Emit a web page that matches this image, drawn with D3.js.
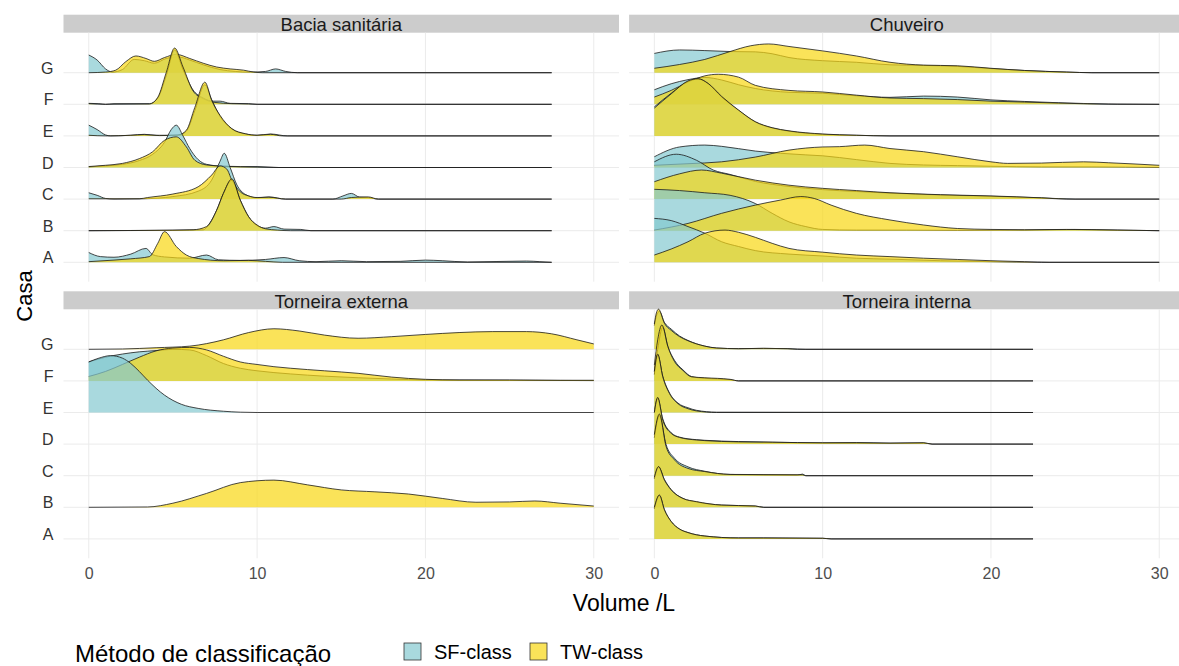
<!DOCTYPE html>
<html>
<head>
<meta charset="UTF-8">
<script src="https://cdn.jsdelivr.net/npm/d3@7"></script>
<style>
  body { margin: 0; background: #fff; }
  svg text { font-family: "Liberation Sans", Arial, sans-serif; }
</style>
</head>
<body>
<script>
// categorias e rótulos
const casas = ["A", "B", "C", "D", "E", "F", "G"];
const metodos = ["SF-class", "TW-class"];
const paineis = ["Bacia sanitária", "Chuveiro", "Torneira externa", "Torneira interna"];
const xTicks = [0, 10, 20, 30];

// densidades: [volume L, altura em unidades de linha]
const baciaSF = {
  G: [[0,0.56],[0.5,0.4],[1,0.12],[1.4,0.02],[2,0.1],[2.7,0.42],[3.3,0.38],[3.9,0.3],[4.6,0.45],[5.3,0.5],[6,0.4],[6.8,0.25],[7.8,0.1],[8.7,0.04],[9.6,0.02],[10.5,0.04],[11.1,0.12],[11.7,0.04],[12.4,0],[27.5,0]],
  F: [[0,0.03],[0.6,0.02],[1,0],[1.5,0.02],[3.6,0.02],[4.1,0.2],[4.6,0.9],[5.1,1.72],[5.6,1.1],[6.2,0.45],[6.8,0.2],[7.4,0.1],[7.8,0.1],[8.4,0.03],[9.5,0.02],[10,0],[27.5,0]],
  E: [[0,0.34],[0.5,0.2],[1,0.03],[1.3,0],[2.5,0.02],[3.3,0.05],[4,0.02],[5.3,0.02],[5.8,0.15],[6.3,0.8],[6.9,1.62],[7.3,1.15],[7.8,0.62],[8.5,0.22],[9.3,0.06],[10,0.02],[10.8,0.06],[11.8,0],[27.5,0]],
  D: [[0,0.02],[1,0.05],[2,0.1],[3,0.22],[3.8,0.42],[4.5,0.8],[4.9,1.2],[5.2,1.34],[5.6,1.0],[6,0.6],[6.5,0.25],[7,0.1],[8,0.04],[9,0.03],[10,0.03],[11.3,0],[27.5,0]],
  C: [[0,0.2],[0.5,0.12],[1,0.02],[1.5,0],[3.2,0.01],[5,0.08],[6.5,0.25],[7.3,0.6],[7.8,1.2],[8.05,1.45],[8.4,1.0],[8.8,0.45],[9.3,0.15],[10,0.04],[10.7,0.07],[11.7,0],[14.5,0],[15.1,0.1],[15.6,0.18],[16.1,0.06],[16.6,0.05],[17.2,0],[27.5,0]],
  B: [[0,0],[5,0.01],[6,0.02],[6.8,0.03],[7.2,0.25],[7.6,0.65],[8,1.18],[8.5,1.6],[9,0.97],[9.5,0.44],[10,0.16],[10.5,0.08],[11,0.13],[11.6,0.05],[12.6,0.04],[13.2,0],[27.5,0]],
  A: [[0,0.31],[0.7,0.18],[1.5,0.16],[2.5,0.26],[3.4,0.44],[3.8,0.24],[4.5,0.17],[6,0.13],[7,0.23],[7.7,0.08],[9,0.06],[10.5,0.09],[11.6,0.15],[12.5,0.05],[13.5,0.02],[15,0.05],[16.5,0.02],[18.5,0.03],[20,0.07],[21,0.05],[22.5,0.01],[26,0.04],[26.8,0.02],[27.5,0]]
};
const baciaTW = {
  G: [[0,0],[1,0.02],[1.6,0.08],[2.2,0.35],[2.8,0.53],[3.4,0.45],[3.9,0.36],[4.5,0.48],[5.2,0.58],[6,0.45],[6.8,0.3],[7.6,0.18],[8.4,0.12],[9.2,0.08],[9.8,0.02],[10.3,0],[27.5,0]],
  F: [[0,0.02],[1,0],[3.6,0.01],[4.1,0.22],[4.6,1.0],[5.1,1.78],[5.6,1.18],[6.2,0.42],[6.8,0.18],[7.5,0.06],[8.5,0.02],[9.5,0.01],[10,0],[27.5,0]],
  E: [[0,0.02],[1,0],[2.5,0.02],[3.3,0.04],[4.2,0.01],[5.3,0.03],[5.8,0.18],[6.3,0.9],[6.9,1.7],[7.3,1.13],[7.8,0.65],[8.5,0.23],[9.3,0.07],[10,0.02],[10.8,0.05],[11.5,0],[27.5,0]],
  D: [[0,0.03],[1,0.07],[2,0.13],[3,0.28],[3.8,0.5],[4.5,0.86],[5.2,0.97],[5.8,0.65],[6.3,0.23],[7,0.08],[8,0.04],[9,0.02],[10,0.01],[11,0],[27.5,0]],
  C: [[0,0.01],[3,0.01],[3.5,0.05],[5,0.16],[6.5,0.39],[7.3,0.76],[7.8,1.05],[8.2,0.95],[8.5,0.6],[9,0.23],[9.5,0.1],[10,0.05],[10.7,0.06],[11.7,0],[15,0],[15.6,0.05],[16.6,0.07],[17.2,0],[27.5,0]],
  B: [[0,0],[5,0.02],[6.2,0.03],[7,0.13],[7.6,0.65],[8,1.18],[8.5,1.64],[9,0.97],[9.5,0.44],[10,0.18],[10.5,0.06],[11.2,0.02],[12,0],[27.5,0]],
  A: [[0,0.02],[1.5,0.07],[2.5,0.11],[3.6,0.18],[4.1,0.6],[4.5,0.97],[5.2,0.5],[5.8,0.23],[6.5,0.12],[8,0.05],[9.5,0.06],[10.5,0.03],[11.5,0],[27.5,0]]
};

const chuveiroSF = {
  G: [[0,0.61],[1.5,0.72],[3,0.7],[4.5,0.67],[6,0.66],[7,0.6],[8,0.48],[10,0.38],[12,0.33],[14,0.25],[16,0.23],[18,0.2],[20,0.13],[22,0.07],[24.5,0.02],[26,0],[30,0]],
  F: [[0,0.46],[1,0.65],[2,0.78],[3,0.85],[4,0.77],[5,0.62],[6,0.5],[8,0.38],[10,0.35],[12,0.27],[14,0.22],[16,0.26],[18,0.23],[20,0.14],[22,0.09],[24,0.05],[27,0.01],[30,0]],
  E: [[0,0.92],[1,1.35],[2,1.72],[2.6,1.8],[3.2,1.65],[4,1.23],[5,0.81],[6,0.44],[7,0.25],[8,0.15],[10,0.05],[12,0.02],[14,0],[30,0]],
  D: [[0,0.34],[1.5,0.65],[3,0.71],[4,0.67],[6,0.52],[7.5,0.45],[9,0.4],[10,0.37],[12,0.25],[14,0.13],[16,0.08],[18,0.06],[20,0.04],[23,0.02],[26,0.02],[30,0]],
  C: [[0,1.18],[1.3,1.42],[2.5,1.23],[3.5,0.92],[4.5,0.78],[6,0.56],[8,0.4],[10,0.3],[12,0.24],[14,0.19],[17,0.13],[20,0.09],[23,0.04],[25,0],[30,0]],
  B: [[0,1.31],[1.5,1.27],[3,1.2],[4.5,1.12],[6,0.86],[7,0.55],[8,0.28],[9,0.13],[10,0.04],[12,0.02],[15,0.02],[18,0.01],[22,0.02],[25,0.04],[27.5,0.02],[30,0]],
  A: [[0,1.39],[1,1.32],[2,1.13],[3,0.92],[4,0.65],[5,0.5],[6,0.37],[8,0.26],[10,0.2],[12,0.13],[14,0.1],[17,0.05],[20,0.02],[23,0],[30,0]]
};
const chuveiroTW = {
  G: [[0,0.14],[1.5,0.26],[3,0.42],[4.5,0.67],[5.7,0.85],[6.8,0.91],[8,0.83],[10,0.69],[12,0.53],[14,0.33],[16,0.24],[18,0.22],[20,0.14],[22,0.07],[24.5,0.02],[26,0],[30,0]],
  F: [[0,0.23],[1,0.44],[2,0.7],[3,0.9],[3.8,0.95],[5,0.86],[6,0.6],[8,0.44],[10,0.39],[12,0.29],[14,0.2],[16,0.18],[18,0.15],[20,0.1],[22,0.07],[24,0.04],[27.5,0],[30,0]],
  E: [[0,0.88],[1,1.33],[2,1.74],[2.6,1.81],[3.2,1.66],[4,1.25],[5,0.82],[6,0.45],[7,0.26],[8,0.16],[10,0.06],[12,0.02],[14,0],[30,0]],
  D: [[0,0.07],[2,0.12],[4,0.18],[6,0.33],[8,0.55],[10,0.65],[11,0.66],[12.5,0.71],[14,0.6],[16,0.5],[18,0.34],[20,0.18],[21,0.13],[23,0.14],[25.5,0.18],[27,0.15],[30,0.07]],
  C: [[0,0.55],[1.5,0.8],[2.8,0.92],[4,0.82],[6,0.6],[8,0.44],[10,0.34],[12,0.27],[14,0.2],[17,0.14],[20,0.1],[23,0.04],[24.5,0],[30,0]],
  B: [[0,0.02],[2,0.23],[4,0.55],[6,0.81],[7.5,0.97],[8.7,1.08],[9.5,1.02],[10.5,0.81],[12,0.55],[14,0.34],[16,0.18],[18,0.07],[20,0.04],[22,0.03],[24.5,0.04],[27.5,0.02],[30,0]],
  A: [[0,0.23],[1,0.42],[2,0.65],[3,0.92],[4.2,1.02],[5,0.95],[6,0.79],[7,0.6],[8,0.44],[10,0.32],[12,0.23],[14,0.18],[16,0.13],[18,0.09],[20,0.05],[22,0.02],[23.5,0],[30,0]]
};

const externaSF = {
  F: [[0,0.6],[1,0.75],[2,0.85],[3,0.92],[4,0.96],[5,1.0],[6,0.98],[7,0.8],[8,0.55],[9,0.4],[10,0.32],[12,0.22],[14,0.15],[16,0.1],[18,0.06],[20,0.03],[25,0.02],[30,0.01]],
  E: [[0,1.6],[0.6,1.72],[1.3,1.8],[2,1.72],[2.5,1.55],[3,1.3],[3.5,1.02],[4.5,0.55],[5.5,0.26],[6.5,0.13],[8,0.04],[9,0.01],[10,0],[30,0]]
};
const externaTW = {
  G: [[0,0],[2,0.01],[4,0.05],[6,0.1],[7,0.18],[8,0.3],[9.5,0.53],[11,0.65],[12.5,0.58],[14,0.45],[16,0.35],[18,0.4],[20,0.47],[22,0.53],[24,0.56],[26,0.56],[27.5,0.49],[29,0.3],[30,0.17]],
  F: [[0,0.14],[1,0.3],[2,0.52],[3,0.75],[4,0.95],[5,1.04],[6,1.06],[7,0.98],[8,0.78],[9,0.6],[10,0.52],[11,0.45],[12,0.4],[14,0.32],[16,0.24],[18,0.12],[20,0.05],[22,0.03],[25,0.03],[28,0.02],[30,0.02]],
  B: [[0,0],[3.5,0.01],[5,0.13],[7,0.44],[9,0.78],[11,0.86],[13,0.71],[15,0.55],[17,0.49],[19,0.42],[21,0.28],[23,0.16],[25,0.17],[26.5,0.2],[28,0.13],[30,0.04]]
};

const internaSF = {
  G: [[0,0.75],[0.15,1.1],[0.3,1.2],[0.6,0.85],[1,0.64],[1.5,0.42],[2,0.28],[3,0.1],[3.7,0.04],[5,0.02],[6.5,0.03],[8,0.02],[9,0],[22.5,0]],
  F: [[0,0.3],[0.2,1.0],[0.5,1.7],[0.8,1.1],[1.2,0.65],[1.7,0.35],[2.2,0.14],[3,0.08],[4.5,0.04],[5,0],[22.5,0]],
  E: [[0,1.2],[0.2,1.82],[0.5,1.15],[0.9,0.62],[1.4,0.3],[2,0.15],[2.5,0.07],[3.7,0.01],[22.5,0]],
  D: [[0,1.0],[0.2,1.45],[0.5,0.8],[1,0.36],[1.5,0.22],[2.5,0.14],[3,0.12],[5,0.08],[7,0.06],[10,0.04],[12,0.05],[14,0.03],[16,0.04],[16.5,0],[22.5,0]],
  C: [[0,1.2],[0.3,1.9],[0.7,0.98],[1.2,0.55],[2,0.28],[3,0.14],[4.5,0.04],[8.5,0.02],[8.8,0.05],[9,0],[22.5,0]],
  B: [[0,0.9],[0.25,1.27],[0.6,0.88],[1,0.56],[1.7,0.28],[2.5,0.17],[4,0.07],[6,0.04],[6.5,0],[22.5,0]],
  A: [[0,0.95],[0.3,1.37],[0.6,0.92],[1,0.55],[1.5,0.31],[2,0.2],[3,0.09],[5,0.03],[6.5,0.03],[10,0.02],[10.5,0],[22.5,0]]
};
const internaTW = {
  G: [[0,0.8],[0.12,1.15],[0.25,1.27],[0.6,0.82],[1,0.6],[1.5,0.4],[2,0.27],[3,0.1],[3.7,0.04],[5,0.02],[6.5,0.03],[7.9,0.02],[8.5,0],[22.5,0]],
  F: [[0,0.5],[0.2,1.3],[0.45,1.77],[0.8,1.09],[1.2,0.61],[1.7,0.33],[2.2,0.13],[3,0.1],[4.5,0.05],[5,0],[22.5,0]],
  E: [[0,1.3],[0.2,1.85],[0.5,1.13],[0.9,0.6],[1.4,0.28],[2,0.12],[2.5,0.05],[3.7,0],[22.5,0]],
  D: [[0,1.0],[0.2,1.48],[0.5,0.76],[1,0.34],[1.5,0.21],[2.5,0.13],[3,0.11],[5,0.07],[7,0.06],[10,0.04],[12,0.04],[14,0.03],[16,0.04],[16.5,0],[22.5,0]],
  C: [[0,1.3],[0.3,1.95],[0.7,0.92],[1.2,0.5],[2,0.23],[3,0.13],[4.5,0.04],[8.8,0.03],[9,0],[22.5,0]],
  B: [[0,0.95],[0.25,1.29],[0.6,0.86],[1,0.55],[1.7,0.28],[2.5,0.18],[4,0.07],[6,0.04],[6.5,0],[22.5,0]],
  A: [[0,1.0],[0.3,1.39],[0.6,0.92],[1,0.55],[1.5,0.31],[2,0.2],[3,0.09],[5,0.03],[6.5,0.03],[10,0.02],[10.5,0],[22.5,0]]
};

const dadosPaineis = [
  [baciaSF, baciaTW],
  [chuveiroSF, chuveiroTW],
  [externaSF, externaTW],
  [internaSF, internaTW]
];

// layout
const width = 1179, height = 666;
const colunas = [[63.5, 619], [629.1, 1184.5]];
const linhas = [
  { strip: 14.7, top: 32.7, bottom: 281.7 },
  { strip: 291.3, top: 309.3, bottom: 558.3 }
];
const fonte = "'Liberation Sans', Arial, sans-serif";

const cor = d3.scaleOrdinal().domain(metodos).range(["rgb(132,201,208)", "rgb(248,215,19)"]);

const svg = d3.select("body").append("svg")
  .attr("width", width)
  .attr("height", height)
  .style("background", "#fff");

paineis.forEach((nome, i) => {
  const c = colunas[i % 2], r = linhas[Math.floor(i / 2)];
  const x = d3.scaleLinear().domain([-1.5, 31.5]).range(c);
  const y = d3.scaleLinear().domain([-0.614, 7.266]).range([r.bottom, r.top]);
  const g = svg.append("g");

  // faixa de título
  g.append("rect")
    .attr("x", c[0]).attr("y", r.strip)
    .attr("width", c[1] - c[0]).attr("height", r.top - r.strip)
    .attr("fill", "#cccccc");
  g.append("text")
    .attr("x", (c[0] + c[1]) / 2)
    .attr("y", r.top - 1.5)
    .attr("text-anchor", "middle")
    .style("font-size", "18.5px")
    .style("fill", "#1a1a1a")
    .text(nome);

  // grade
  g.selectAll(".gx").data(xTicks).enter().append("line")
    .attr("x1", d => x(d)).attr("x2", d => x(d))
    .attr("y1", r.top).attr("y2", r.bottom)
    .attr("stroke", "#ebebeb").attr("stroke-width", 1);
  g.selectAll(".gy").data(casas).enter().append("line")
    .attr("x1", c[0]).attr("x2", c[1])
    .attr("y1", (d, k) => y(k)).attr("y2", (d, k) => y(k))
    .attr("stroke", "#ebebeb").attr("stroke-width", 1);

  // cristas: de cima (G) para baixo (A)
  for (let k = casas.length - 1; k >= 0; k--) {
    metodos.forEach((m, j) => {
      const pts = dadosPaineis[i][j][casas[k]];
      if (!pts) return;
      const area = d3.area()
        .x(d => x(d[0]))
        .y0(y(k))
        .y1(d => y(k + d[1]))
        .curve(d3.curveMonotoneX);
      const linha = d3.line()
        .x(d => x(d[0]))
        .y(d => y(k + d[1]))
        .curve(d3.curveMonotoneX);
      g.append("path")
        .attr("d", area(pts))
        .attr("fill", cor(m))
        .attr("fill-opacity", 0.7);
      g.append("path")
        .attr("d", linha(pts))
        .attr("fill", "none")
        .attr("stroke", "#1a1a1a")
        .attr("stroke-width", 0.8);
    });
  }

  // eixo y (só na coluna da esquerda)
  if (i % 2 === 0) {
    const ay = g.append("g")
      .attr("transform", "translate(" + c[0] + ",0)")
      .call(d3.axisLeft(y).tickValues(d3.range(casas.length)).tickFormat(k => casas[k]).tickSize(0).tickPadding(10));
    ay.select(".domain").remove();
    ay.selectAll("text")
      .attr("dy", "0.04em")
      .style("font-size", "16px")
      .style("font-family", fonte)
      .style("fill", "#333");
  }

  // eixo x (só na linha de baixo)
  if (i >= 2) {
    const ax = g.append("g")
      .attr("transform", "translate(0," + r.bottom + ")")
      .call(d3.axisBottom(x).tickValues(xTicks).tickSize(0).tickPadding(9));
    ax.select(".domain").remove();
    ax.selectAll("text")
      .style("font-size", "16px")
      .style("font-family", fonte)
      .style("fill", "#4d4d4d");
  }
});

// títulos dos eixos
svg.append("text")
  .attr("x", (colunas[0][0] + colunas[1][1]) / 2)
  .attr("y", 610.5)
  .attr("text-anchor", "middle")
  .style("font-size", "23px")
  .style("fill", "#000")
  .text("Volume /L");

svg.append("text")
  .attr("transform", "translate(31.5,296) rotate(-90)")
  .attr("text-anchor", "middle")
  .style("font-size", "22px")
  .style("fill", "#000")
  .text("Casa");

// legenda
svg.append("text")
  .attr("x", 75)
  .attr("y", 662)
  .style("font-size", "24px")
  .style("fill", "#000")
  .text("Método de classificação");

const legX = [404, 530];
const leg = svg.selectAll(".leg").data(metodos).enter().append("g")
  .attr("transform", (d, k) => "translate(" + legX[k] + ",643)");
leg.append("rect")
  .attr("width", 17).attr("height", 17)
  .attr("fill", d => cor(d)).attr("fill-opacity", 0.7)
  .attr("stroke", "#333").attr("stroke-width", 0.8);
leg.append("text")
  .attr("x", 30).attr("y", 16)
  .style("font-size", "20px")
  .style("fill", "#000")
  .text(d => d);
</script>
</body>
</html>
